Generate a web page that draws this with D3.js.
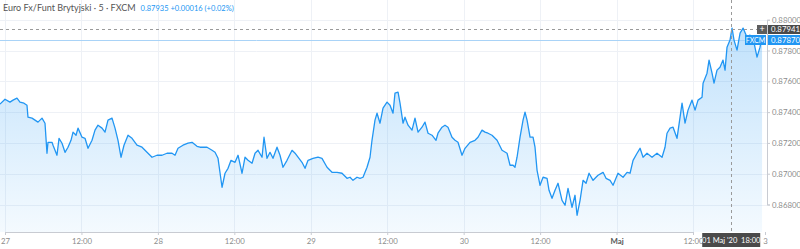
<!DOCTYPE html>
<html>
<head>
<meta charset="utf-8">
<script src="https://cdn.jsdelivr.net/npm/d3@7"></script>
<style>
  body { margin: 0; background: #fff; }
  svg { display: block; font-family: Lato, "DejaVu Sans", sans-serif; }
</style>
</head>
<body>
<svg id="chart"></svg>
<script>
var width = 800,
    height = 249;

// hours since 27 Apr 2020 00:00
var hours = [-0.79, 0, 0.78, 1.26, 1.88, 2.35, 2.98, 3.45, 3.61, 4.24, 4.71, 5.18, 5.81, 6.28, 6.59, 6.75,
  7.38, 7.54, 8.16, 8.48, 8.95, 9.42, 9.89, 10.36, 10.68, 11.15, 11.46, 12.09, 12.56, 13.03, 13.66, 14.13,
  14.60, 15.23, 15.70, 16.17, 16.80, 17.27, 17.74, 18.21, 18.68, 19.31, 19.94, 20.72, 21.51, 22.29, 23.08,
  23.86, 24.65, 25.43, 26.22, 26.69, 27.16, 27.94, 28.73, 29.36, 30.14, 30.61, 31.71, 32.50, 32.97, 33.44,
  34.07, 34.54, 35.01, 35.48, 36.11, 36.58, 37.21, 37.68, 38.15, 38.78, 39.25, 39.72, 40.35, 40.66, 41.13,
  41.60, 42.07, 42.70, 43.17, 43.64, 44.27, 45.06, 45.53, 46.00, 46.62, 47.10, 47.57, 48.35, 49.14, 49.76,
  50.55, 51.33, 52.12, 52.90, 53.69, 54.16, 54.63, 55.26, 55.73, 56.20, 56.83, 57.30, 57.61, 58.08, 58.40,
  58.87, 59.34, 59.97, 60.44, 60.91, 61.22, 61.70, 62.01, 62.48, 62.79, 63.27, 63.89, 64.36, 64.84, 65.46,
  65.93, 66.41, 67.03, 67.66, 67.97, 68.60, 69.07, 69.54, 70.17, 70.64, 71.11, 71.74, 72.21, 73.00, 73.78,
  74.25, 74.88, 75.35, 75.82, 76.45, 77.24, 78.02, 78.81, 79.28, 79.75, 80.06, 80.38, 80.85, 81.32, 81.63,
  81.95, 82.42, 82.89, 83.20, 83.52, 83.99, 84.46, 85.09, 85.40, 85.87, 86.34, 86.81, 87.44, 87.91, 88.38,
  89.01, 89.48, 89.80, 90.27, 90.74, 91.21, 91.68, 92.31, 93.09, 93.88, 94.35, 94.98, 95.45, 96.23, 97.02,
  97.65, 98.12, 98.59, 99.22, 99.69, 100.16, 100.78, 101.57, 102.35, 103.14, 103.61, 103.92, 104.40, 104.87,
  105.49, 105.97, 106.28, 106.75, 107.22, 107.85, 108.32, 108.79, 109.42, 109.58, 110.20, 110.52, 110.99,
  111.30, 111.77, 112.24, 112.71, 113.03, 113.34, 113.81, 114.13, 114.44, 114.91, 115.39, 115.86, 116.48,
  116.95, 117.43, 118.05, 118.52, 118.84];

var prices = [0.87452, 0.87484, 0.87465, 0.87478, 0.87491, 0.87465, 0.87458, 0.87445, 0.87367, 0.87361,
  0.87348, 0.87335, 0.87361, 0.87328, 0.87133, 0.87204, 0.87204, 0.87185, 0.87120, 0.87230, 0.87198, 0.87139,
  0.87172, 0.87217, 0.87270, 0.87250, 0.87296, 0.87237, 0.87230, 0.87165, 0.87217, 0.87283, 0.87315, 0.87296,
  0.87270, 0.87348, 0.87361, 0.87296, 0.87217, 0.87107, 0.87185, 0.87250, 0.87230, 0.87185, 0.87172, 0.87139,
  0.87107, 0.87120, 0.87120, 0.87133, 0.87133, 0.87120, 0.87165, 0.87185, 0.87198, 0.87204, 0.87178, 0.87172,
  0.87172, 0.87152, 0.87139, 0.87100, 0.86912, 0.87003, 0.87035, 0.87087, 0.87074, 0.87120, 0.87003, 0.87107,
  0.87087, 0.87068, 0.87133, 0.87152, 0.87107, 0.87237, 0.87100, 0.87139, 0.87100, 0.87172, 0.87120, 0.87042,
  0.87087, 0.87152, 0.87133, 0.87107, 0.87074, 0.87035, 0.87087, 0.87100, 0.87107, 0.87100, 0.87042, 0.87009,
  0.87009, 0.87003, 0.86970, 0.86977, 0.86957, 0.86977, 0.86970, 0.86977, 0.87042, 0.87107, 0.87217, 0.87348,
  0.87393, 0.87328, 0.87426, 0.87465, 0.87445, 0.87393, 0.87523, 0.87530, 0.87458, 0.87328, 0.87367, 0.87315,
  0.87283, 0.87361, 0.87270, 0.87302, 0.87335, 0.87263, 0.87250, 0.87217, 0.87263, 0.87302, 0.87315, 0.87302,
  0.87237, 0.87217, 0.87204, 0.87120, 0.87165, 0.87204, 0.87217, 0.87237, 0.87283, 0.87270, 0.87263, 0.87250,
  0.87217, 0.87152, 0.87133, 0.87055, 0.87055, 0.87042, 0.87107, 0.87237, 0.87348, 0.87400, 0.87348, 0.87237,
  0.87237, 0.87172, 0.87022, 0.86925, 0.86977, 0.86970, 0.86892, 0.86840, 0.86892, 0.86938, 0.86827, 0.86795,
  0.86905, 0.86782, 0.86860, 0.86730, 0.86827, 0.86957, 0.86938, 0.87003, 0.86957, 0.86990, 0.87009, 0.86970,
  0.86957, 0.86925, 0.87003, 0.86977, 0.87009, 0.87003, 0.87087, 0.87133, 0.87165, 0.87107, 0.87133, 0.87107,
  0.87133, 0.87107, 0.87172, 0.87263, 0.87296, 0.87302, 0.87230, 0.87367, 0.87458, 0.87328, 0.87413, 0.87478,
  0.87413, 0.87478, 0.87497, 0.87588, 0.87653, 0.87738, 0.87653, 0.87588, 0.87673, 0.87692, 0.87738, 0.87673,
  0.87822, 0.87868, 0.87946, 0.87868, 0.87803, 0.87913, 0.87946, 0.87887, 0.87900, 0.87881, 0.87757, 0.87822,
  0.87887];

var yTicks = [0.868, 0.870, 0.872, 0.874, 0.876, 0.878, 0.880];
var xTickHours = [0, 12, 24, 36, 48, 60, 72, 84, 96, 108, 119.3];
var xTickLabels = ["27", "12:00", "28", "12:00", "29", "12:00", "30", "12:00", "Maj", "12:00", "3"];

var title = "Euro Fx/Funt Brytyjski · 5 · FXCM";
var quote = "0.87935  +0.00016 (+0.02%)";
var crossPrice = 0.87941, crossHour = 114, crossLabel = "01 Maj '20\u00a0\u00a018:00";
var prevClose = 0.87870;

var blue = "#2196f3";
var plotRight = 767, plotBottom = 232;
var axisFont = "7.8px";

var data = hours.map(function(h, i) { return {h: h, p: prices[i]}; });

var svg = d3.select("#chart").attr("width", width).attr("height", height);

var x = d3.scaleLinear().domain([0, 108]).range([5, 693]);
var y = d3.scaleLinear().domain([0.868, 0.880]).range([204.5, 19.75]);

var defs = svg.append("defs");
var grad = defs.append("linearGradient").attr("id", "fill")
  .attr("x1", 0).attr("y1", 0).attr("x2", 0).attr("y2", 1);
grad.append("stop").attr("offset", "0%").attr("stop-color", blue).attr("stop-opacity", 0.28);
grad.append("stop").attr("offset", "100%").attr("stop-color", blue).attr("stop-opacity", 0.05);
defs.append("clipPath").attr("id", "clip").append("rect")
  .attr("x", 0).attr("y", 0).attr("width", plotRight).attr("height", plotBottom);

// grid
var grid = svg.append("g");
grid.selectAll(".hg").data(yTicks).enter().append("line")
  .attr("x1", 0).attr("x2", plotRight)
  .attr("y1", function(d) { return Math.round(y(d)) + 0.5; })
  .attr("y2", function(d) { return Math.round(y(d)) + 0.5; })
  .style("stroke", "#eef1f6");
grid.selectAll(".vg").data(xTickHours.slice(0, 10)).enter().append("line")
  .attr("y1", 0).attr("y2", plotBottom)
  .attr("x1", function(d) { return Math.round(x(d)) + 0.5; })
  .attr("x2", function(d) { return Math.round(x(d)) + 0.5; })
  .style("stroke", "#eef1f6");

var plot = svg.append("g").attr("clip-path", "url(#clip)");

var area = d3.area()
  .x(function(d) { return x(d.h); })
  .y0(plotBottom)
  .y1(function(d) { return y(d.p); });
var line = d3.line()
  .x(function(d) { return x(d.h); })
  .y(function(d) { return y(d.p); });

plot.append("path").datum(data).attr("d", area).style("fill", "url(#fill)");

// previous close line
plot.append("line")
  .attr("x1", 0).attr("x2", 745)
  .attr("y1", Math.round(y(prevClose)) + 0.5).attr("y2", Math.round(y(prevClose)) + 0.5)
  .style("stroke", "#a9d3f7").style("stroke-width", 1);

plot.append("path").datum(data).attr("d", line)
  .style("fill", "none").style("stroke", blue).style("stroke-width", 1.3)
  .style("stroke-linejoin", "round");

// crosshair
svg.append("line")
  .attr("x1", 0).attr("x2", plotRight)
  .attr("y1", Math.round(y(crossPrice)) + 0.5).attr("y2", Math.round(y(crossPrice)) + 0.5)
  .style("stroke", "#9a9a9a").style("stroke-dasharray", "3,3");
svg.append("line")
  .attr("x1", Math.round(x(crossHour)) + 0.5).attr("x2", Math.round(x(crossHour)) + 0.5)
  .attr("y1", 0).attr("y2", plotBottom)
  .style("stroke", "#9a9a9a").style("stroke-dasharray", "3,3");

// axes
var yAxis = svg.append("g").attr("transform", "translate(" + plotRight + ",0)")
  .call(d3.axisRight(y).tickValues(yTicks).tickFormat(d3.format(".5f")).tickSize(3).tickPadding(2));
var xAxis = svg.append("g").attr("transform", "translate(0," + plotBottom + ")")
  .call(d3.axisBottom(x).tickValues(xTickHours)
    .tickFormat(function(d, i) { return xTickLabels[i]; }).tickSize(3).tickPadding(3));

[yAxis, xAxis].forEach(function(a) {
  a.select(".domain").style("stroke", "#c8cbd2");
  a.selectAll(".tick line").style("stroke", "#c8cbd2");
  a.selectAll(".tick text").style("fill", "#8c8c8c").style("font-size", axisFont)
    .style("font-family", "Lato, 'DejaVu Sans', sans-serif");
});
xAxis.selectAll(".tick text").filter(function(d, i) { return xTickLabels[i] == "Maj"; })
  .style("fill", "#555").style("font-weight", "bold");

// title
var t = svg.append("text").attr("x", 3).attr("y", 11).style("font-size", "9px");
t.append("tspan").style("fill", "#555").text(title);
t.append("tspan").attr("dx", 5).style("fill", blue).style("font-size", "7.5px").text(quote);

// right side labels
var cy = Math.round(y(crossPrice));
svg.append("rect").attr("x", 757).attr("y", cy - 4).attr("width", 10).attr("height", 9).style("fill", "#5d5d5d");
svg.append("text").attr("x", 762).attr("y", cy + 3).attr("text-anchor", "middle")
  .style("fill", "#fff").style("font-size", "9px").text("+");
svg.append("rect").attr("x", 768).attr("y", cy - 4).attr("width", 32).attr("height", 9).style("fill", "#4a4a4a");
svg.append("text").attr("x", 771).attr("y", cy + 3).style("fill", "#fff").style("font-size", axisFont)
  .text(d3.format(".5f")(crossPrice));

var py = Math.round(y(prevClose));
svg.append("rect").attr("x", 745).attr("y", py - 5).attr("width", 21).attr("height", 10).style("fill", blue);
svg.append("text").attr("x", 755.5).attr("y", py + 3).attr("text-anchor", "middle")
  .style("fill", "#fff").style("font-size", "7px").text("FXCM");
svg.append("rect").attr("x", 768).attr("y", py - 5).attr("width", 32).attr("height", 10).style("fill", blue);
svg.append("text").attr("x", 771).attr("y", py + 3).style("fill", "#fff").style("font-size", axisFont)
  .text(d3.format(".5f")(prevClose));

// bottom date label
var cx = x(crossHour);
svg.append("rect").attr("x", cx - 29).attr("y", plotBottom + 1).attr("width", 58).attr("height", 14)
  .style("fill", "#4a4a4a");
svg.append("text").attr("x", cx).attr("y", plotBottom + 10.5).attr("text-anchor", "middle")
  .style("fill", "#fff").style("font-size", "7.5px").text(crossLabel);
</script>
</body>
</html>
